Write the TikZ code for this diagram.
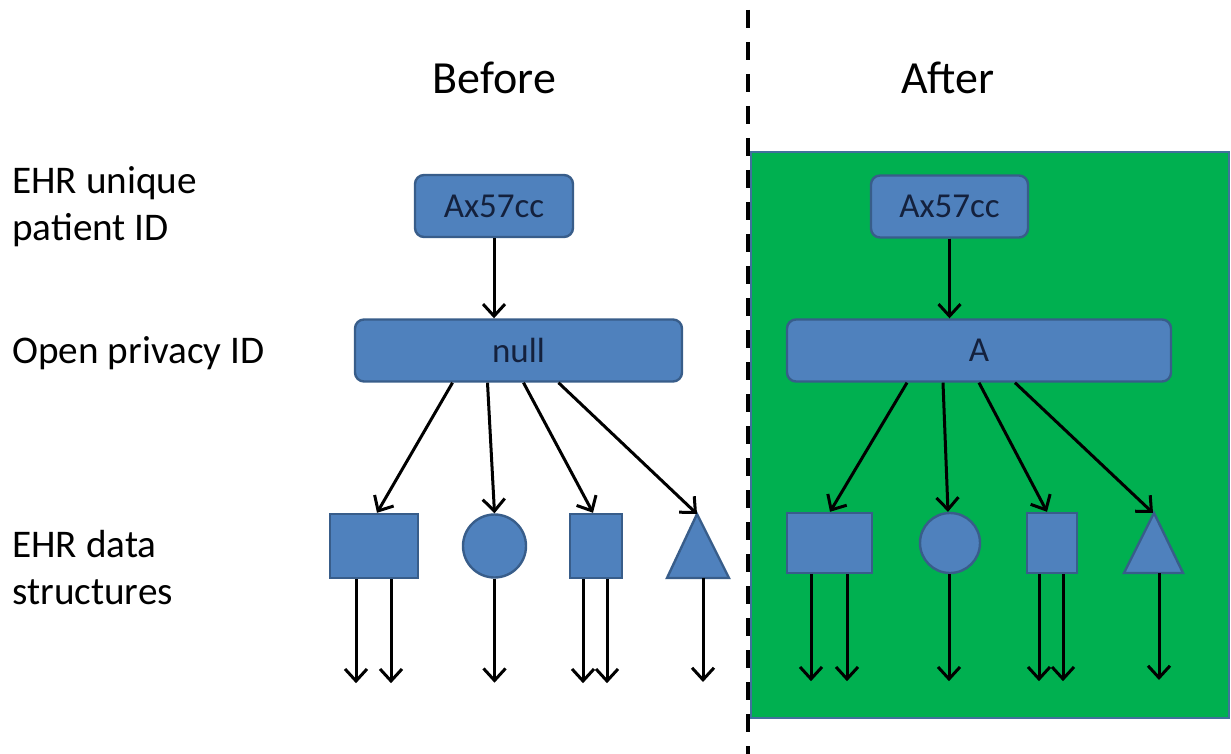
\documentclass[tikz,border=0pt]{standalone}
\usepackage{fontspec}
\setmainfont{Carlito}
\usetikzlibrary{arrows.meta,calc}
\definecolor{boxblue}{HTML}{4F81BD}
\definecolor{boxedge}{HTML}{385D8A}
\definecolor{panelgreen}{HTML}{00B050}
\definecolor{paneledge}{HTML}{41719C}
\definecolor{boxtext}{HTML}{14213D}

\begin{document}
\begin{tikzpicture}[x=0.5pt,y=-0.5pt,
  idbox/.style={draw=boxedge, line width=1.2pt, fill=boxblue, rounded corners=4.5pt,
    minimum height=31pt, inner sep=0pt, text=boxtext,
    font=\fontsize{17.5}{21}\selectfont},
  datashape/.style={draw=boxedge, line width=1.2pt, fill=boxblue, inner sep=0pt},
  arr/.style={line width=1.5pt, -{Straight Barb[length=6pt,width=11pt,line width=1.5pt]}},
  title/.style={anchor=base, inner sep=0pt, font=\fontsize{23}{28}\selectfont},
  rowlabel/.style={anchor=base west, inner sep=0pt, align=left,
    font=\fontsize{19.6}{23.5}\selectfont},
  panel/.style={fill=panelgreen, draw=paneledge, line width=1.2pt},
  divider/.style={line width=2pt, dash pattern=on 9pt off 7pt}]

\useasboundingbox (0,0) rectangle (1231,754);

% green panel behind the "after" diagram
\path[panel] (751,152) rectangle (1229,718);

% vertical divider
\coordinate (divtop) at (748,10);
\coordinate (divbot) at (748,754);
\draw[divider] (divtop) -- (divbot);

% headings
\node[title] (before) at (494.5,94) {Before};
\node[title] (after) at (948,94) {After};

% row labels (anchored on the baseline of their last line)
\node[rowlabel] (lblpid) at (12,241) {EHR unique\\patient ID};
\node[rowlabel] (lblopen) at (12,363) {Open privacy ID};
\node[rowlabel] (lbldata) at (12,604) {EHR data\\structures};

% ---------- before ----------
\node[idbox, minimum width=79pt] (axL) at (494,206) {Ax57cc};
\node[idbox, minimum width=163.5pt] (nullL) at (518.5,350.5) {null};

\node[datashape, minimum width=44pt, minimum height=32pt] (rectL) at (374,546) {};
\node[datashape, circle, minimum size=31.5pt] (circL) at (494.5,546) {};
\node[datashape, minimum width=26pt, minimum height=32pt] (sqL) at (596,546) {};
\path[datashape] (697,514) -- (729,578) -- (667,578) -- cycle;
\coordinate (triLtop) at (697,514);
\coordinate (triLbase) at (703,578);

\draw[arr] (axL.south) -- (axL.south |- nullL.north);
\draw[arr] ($(nullL.south)+(-66,0)$) -- ($(rectL.north)+(3,0)$);
\draw[arr] ($(nullL.south)+(-31,0)$) -- (circL.north);
\draw[arr] ($(nullL.south)+(5,0)$) -- ($(sqL.north)+(-3,0)$);
\draw[arr] ($(nullL.south)+(40,0)$) -- (triLtop);

\draw[arr] ($(rectL.south)+(-18,0)$) -- ++(0,104);
\draw[arr] ($(rectL.south)+(17,0)$) -- ++(0,104);
\draw[arr] (circL.south) -- ++(0,104);
\draw[arr] ($(sqL.south)+(-13,0)$) -- ++(0,104);
\draw[arr] ($(sqL.south)+(11,0)$) -- ++(0,104);
\draw[arr] (triLbase) -- ++(0,104);

% ---------- after ----------
\node[idbox, minimum width=78.5pt] (axR) at (949.5,206.5) {Ax57cc};
\node[idbox, minimum width=192pt] (pidR) at (979,350.5) {A};

\node[datashape, minimum width=42.5pt, minimum height=30pt] (rectR) at (829.5,543) {};
\node[datashape, circle, minimum size=30pt] (circR) at (950,543) {};
\node[datashape, minimum width=25pt, minimum height=30pt] (sqR) at (1052,543) {};
\path[datashape] (1154,513) -- (1183,573) -- (1124,573) -- cycle;
\coordinate (triRtop) at (1153,513);
\coordinate (triRbase) at (1159,573);

\draw[arr] (axR.south) -- (axR.south |- pidR.north);
\draw[arr] ($(pidR.south)+(-72,0)$) -- ($(rectR.north)+(0.5,0)$);
\draw[arr] ($(pidR.south)+(-36,0)$) -- ($(circR.north)+(-2,0)$);
\draw[arr] ($(pidR.south)+(0,0)$) -- ($(sqR.north)+(-5,0)$);
\draw[arr] ($(pidR.south)+(36,0)$) -- (triRtop);

\draw[arr] ($(rectR.south)+(-18.5,0)$) -- ++(0,107);
\draw[arr] ($(rectR.south)+(17.5,0)$) -- ++(0,107);
\draw[arr] ($(circR.south)+(-1,0)$) -- ++(0,107);
\draw[arr] ($(sqR.south)+(-13,0)$) -- ++(0,107);
\draw[arr] ($(sqR.south)+(11,0)$) -- ++(0,107);
\draw[arr] (triRbase) -- ++(0,107);

\end{tikzpicture}
\end{document}
